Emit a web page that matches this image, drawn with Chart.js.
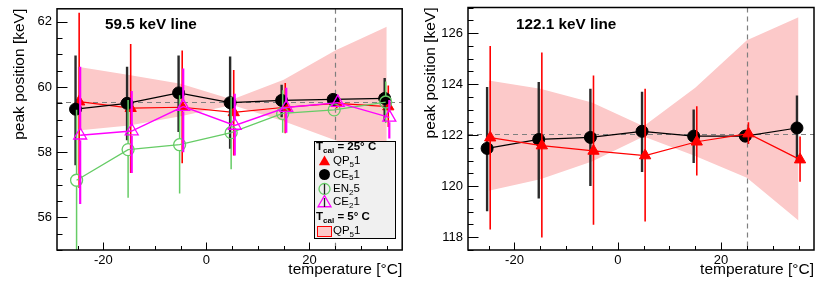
<!DOCTYPE html>
<html><head><meta charset="utf-8">
<script src="https://cdn.jsdelivr.net/npm/chart.js@4/dist/chart.umd.min.js"></script>
<style>
html,body{margin:0;padding:0;background:#fff;overflow:hidden}
#wrap{position:relative;width:822px;height:283px}
canvas{position:absolute;top:0}
</style></head><body>
<div id="wrap">
<canvas id="c1" width="411" height="283" style="left:0px"></canvas>
<canvas id="c2" width="411" height="283" style="left:411px"></canvas>
</div>
<script>
// ================= DATA =================
const xTickLabels = [-20, 0, 20];
const yTicks59 = [56, 58, 60, 62];
const yTicks122 = [118, 120, 122, 124, 126];
const bandTemps = [-25, -15, -5, 5, 15, 25, 35];
const calTemp = 25;

// ---- 59.5 keV line ----
const ref59 = 59.55;
const l59_QP5_x  = [-24.7, -14.7, -4.7, 5.3, 15.3, 25.3, 35.3];
const l59_QP5    = [59.55, 59.35, 59.38, 59.22, 59.38, 59.50, 59.40];
const l59_QP5_hi = [62.28, 61.32, 61.12, 60.52, 60.12, 59.65, 60.05];
const l59_QP5_lo = [56.90, 57.36, 57.66, 57.90, 58.58, 59.35, 58.77];

const l59_CE5_x  = [-25.4, -15.4, -5.4, 4.6, 14.6, 24.6, 34.6];
const l59_CE5    = [59.32, 59.50, 59.82, 59.52, 59.59, 59.62, 59.65];
const l59_CE5_hi = [60.97, 60.62, 60.97, 60.94, 60.07, 59.75, 60.28];
const l59_CE5_lo = [57.60, 58.37, 58.62, 58.11, 59.07, 59.50, 58.95];

const l59_EN2_x  = [-25.2, -15.2, -5.2, 4.8, 14.8, 24.8, 34.8];
const l59_EN2    = [57.14, 58.08, 58.23, 58.60, 59.19, 59.30, 59.54];
const l59_EN2_hi = [59.30, 59.60, 59.75, 59.70, 59.90, 59.45, 60.17];
const l59_EN2_lo = [54.50, 56.60, 56.73, 57.48, 58.60, 59.15, 58.90];

const l59_CE2_x  = [-24.5, -14.5, -4.5, 5.5, 15.5, 25.5, 35.5];
const l59_CE2    = [58.52, 58.65, 59.40, 58.82, 59.37, 59.52, 59.07];
const l59_CE2_hi = [60.62, 59.88, 60.57, 59.79, 59.98, 59.65, 59.60];
const l59_CE2_lo = [56.41, 57.36, 58.00, 57.90, 58.60, 59.40, 58.42];

const l59_band_hi = [60.62, 60.37, 60.10, 59.62, 60.22, 61.12, 61.85];
const l59_band_lo = [58.67, 58.82, 59.10, 59.45, 58.95, 58.37, 57.92];

// ---- 122.1 keV line ----
const ref122 = 122.05;
const l122_CE5_x  = [-25.3, -15.3, -5.3, 4.7, 14.7, 24.7, 34.7];
const l122_CE5    = [121.48, 121.83, 121.91, 122.15, 121.96, 121.96, 122.28];
const l122_CE5_hi = [123.89, 124.08, 123.82, 123.70, 123.00, 122.20, 123.55];
const l122_CE5_lo = [119.02, 119.52, 120.01, 120.56, 120.91, 121.75, 120.95];

const l122_QP5_x  = [-24.7, -14.7, -4.7, 5.3, 15.3, 25.3, 35.3];
const l122_QP5    = [121.90, 121.59, 121.38, 121.20, 121.74, 122.06, 121.04];
const l122_QP5_hi = [125.49, 125.24, 124.34, 123.82, 123.13, 122.50, 121.95];
const l122_QP5_lo = [118.30, 117.99, 118.49, 118.62, 120.42, 121.65, 120.17];

const l122_band_hi = [124.14, 123.82, 123.28, 122.35, 123.86, 125.72, 126.62];
const l122_band_lo = [119.82, 120.27, 120.97, 121.95, 121.18, 120.33, 118.66];

const legendHead25 = ['T', 'cal', ' = 25° C'];
const legendHead5  = ['T', 'cal', ' = 5° C'];
const legendEntries = [['QP', '5', '1'], ['CE', '5', '1'], ['EN', '2', '5'], ['CE', '2', '1']];

// ================= STYLE / HELPERS =================
const FONT = "'Liberation Sans', Arial, Helvetica, sans-serif";
const RED = '#ff0000', BLACK = '#000000', GREEN = '#66cc66', MAGENTA = '#ff00ff';
const BAND = 'rgb(252,201,201)';

const pts = (xs, ys) => xs.map((v, i) => ({x: v, y: ys[i]}));

function series(xs, ys, hi, lo, color, style, radius, filled, lw, errColor, errWidth, gap) {
  return {
    data: pts(xs, ys), showLine: true, borderColor: color, borderWidth: lw,
    pointStyle: style, pointRadius: radius, pointBorderColor: color, pointBorderWidth: filled ? 1 : 1.3,
    pointBackgroundColor: filled ? color : 'rgba(0,0,0,0)', fill: false,
    errHi: hi, errLo: lo, errColor: errColor, errWidth: errWidth, errGap: gap
  };
}
function band(xs, hi, lo) {
  return [
    {data: pts(xs, hi), showLine: true, borderWidth: 0, borderColor: 'rgba(0,0,0,0)', pointRadius: 0, fill: false, order: 100},
    {data: pts(xs, lo), showLine: true, borderWidth: 0, borderColor: 'rgba(0,0,0,0)', pointRadius: 0, fill: '-1', backgroundColor: BAND, order: 100}
  ];
}

function drawTri(ctx, x, y, r) {
  ctx.beginPath();
  for (let k = 0; k < 3; k++) {
    const a = -Math.PI / 2 + k * 2 * Math.PI / 3;
    const px = x + Math.cos(a) * r, py = y + Math.sin(a) * r;
    k ? ctx.lineTo(px, py) : ctx.moveTo(px, py);
  }
  ctx.closePath();
}

function richText(ctx, x, y, parts, bold, size) {
  let cx = x;
  parts.forEach((t, i) => {
    const sub = (i === 1);
    ctx.font = (bold ? 'bold ' : '') + (sub ? size * 0.7 : size) + 'px ' + FONT;
    ctx.fillText(t, cx, y + (sub ? size * 0.32 : 0));
    cx += ctx.measureText(t).width;
  });
}

function drawLegend(ctx) {
  const L = 314.5, T = 141.5, R = 395.5, B = 238.5;
  ctx.save();
  ctx.fillStyle = '#f0f0f0'; ctx.fillRect(L, T, R - L, B - T);
  ctx.strokeStyle = '#000'; ctx.lineWidth = 1; ctx.strokeRect(L, T, R - L, B - T);
  ctx.fillStyle = '#000'; ctx.textBaseline = 'middle'; ctx.textAlign = 'left';
  const sz = 11.5, mx = 324.5, tx = 333;
  richText(ctx, 316, 147, legendHead25, true, sz);
  const rows = [161, 174.5, 189, 202];
  rows.forEach((ry, i) => richText(ctx, tx, ry, legendEntries[i], false, sz));
  richText(ctx, 316, 217, legendHead5, true, sz);
  richText(ctx, tx, 231, legendEntries[0], false, sz);
  // markers
  ctx.fillStyle = RED; drawTri(ctx, mx, rows[0] + 1, 6.5); ctx.fill();
  ctx.fillStyle = BLACK; ctx.beginPath(); ctx.arc(mx, rows[1], 5.5, 0, 2 * Math.PI); ctx.fill();
  ctx.strokeStyle = GREEN; ctx.lineWidth = 1.3; ctx.beginPath(); ctx.arc(mx, rows[2], 5.5, 0, 2 * Math.PI); ctx.stroke();
  ctx.strokeStyle = '#222'; ctx.lineWidth = 1.3; ctx.beginPath(); ctx.moveTo(mx, rows[2] - 5); ctx.lineTo(mx, rows[2] + 5); ctx.stroke();
  ctx.strokeStyle = MAGENTA; ctx.lineWidth = 1.3; drawTri(ctx, mx, rows[3] + 1, 7.5); ctx.stroke();
  ctx.strokeStyle = '#222'; ctx.beginPath(); ctx.moveTo(mx, rows[3] - 4); ctx.lineTo(mx, rows[3] + 5); ctx.stroke();
  ctx.fillStyle = BAND; ctx.fillRect(317.5, 226.5, 14, 10);
  ctx.strokeStyle = RED; ctx.lineWidth = 1; ctx.strokeRect(317.5, 226.5, 14, 10);
  ctx.restore();
}

const rootPlugin = {
  id: 'rootStyle',
  beforeDatasetsDraw(chart, args, o) {
    const {ctx, chartArea: a, scales: {x, y}} = chart;
    ctx.save();
    ctx.beginPath(); ctx.rect(a.left, a.top, a.right - a.left, a.bottom - a.top); ctx.clip();
    ctx.strokeStyle = '#7f7f7f'; ctx.lineWidth = 1.2; ctx.setLineDash([5, 4]);
    ctx.beginPath();
    const yy = Math.round(y.getPixelForValue(o.refY)) + 0.5;
    ctx.moveTo(a.left, yy); ctx.lineTo(a.right, yy);
    const xx = Math.round(x.getPixelForValue(o.refX)) + 0.5;
    ctx.moveTo(xx, a.top); ctx.lineTo(xx, a.bottom);
    ctx.stroke();
    ctx.restore();
  },
  beforeDatasetDraw(chart, args) {
    const ds = chart.data.datasets[args.index];
    if (!ds.errHi) return;
    const {ctx, chartArea: a, scales: {x, y}} = chart;
    ctx.save();
    ctx.beginPath(); ctx.rect(a.left, a.top, a.right - a.left, a.bottom - a.top); ctx.clip();
    ctx.strokeStyle = ds.errColor; ctx.lineWidth = ds.errWidth;
    ctx.beginPath();
    const g = ds.errGap || 0;
    ds.data.forEach((p, i) => {
      const px = x.getPixelForValue(p.x), pc = y.getPixelForValue(p.y);
      const ph = y.getPixelForValue(ds.errHi[i]), pl = y.getPixelForValue(ds.errLo[i]);
      if (ph < pc - g) { ctx.moveTo(px, ph); ctx.lineTo(px, pc - g); }
      if (pl > pc + g) { ctx.moveTo(px, pc + g); ctx.lineTo(px, pl); }
    });
    ctx.stroke();
    ctx.restore();
  },
  afterDraw(chart, args, o) {
    const {ctx, chartArea: a, scales: {x, y}} = chart;
    ctx.save();
    ctx.strokeStyle = '#000'; ctx.lineWidth = 1;
    ctx.beginPath();
    for (let k = Math.ceil(y.min / o.yMinor); k * o.yMinor <= y.max + 1e-9; k++) {
      const v = k * o.yMinor;
      const major = Math.abs(v / o.yMajor - Math.round(v / o.yMajor)) < 1e-6;
      const py = Math.round(y.getPixelForValue(v)) + 0.5;
      ctx.moveTo(a.left, py); ctx.lineTo(a.left + (major ? 10.5 : 5.5), py);
    }
    for (let k = Math.ceil(x.min / o.xMinor); k * o.xMinor <= x.max + 1e-9; k++) {
      const v = k * o.xMinor;
      const major = Math.abs(v / o.xMajor - Math.round(v / o.xMajor)) < 1e-6;
      const px = Math.round(x.getPixelForValue(v)) + 0.5;
      ctx.moveTo(px, a.bottom); ctx.lineTo(px, a.bottom - (major ? 7.5 : 4));
    }
    ctx.stroke();
    ctx.lineWidth = 1.5;
    ctx.strokeRect(a.left, a.top, a.right - a.left, a.bottom - a.top);
    ctx.fillStyle = '#000'; ctx.textBaseline = 'middle'; ctx.textAlign = 'left';
    ctx.font = 'bold 15.3px ' + FONT;
    ctx.fillText(o.title, 105, 25);
    if (o.legend) drawLegend(ctx);
    ctx.restore();
  }
};

function makeChart(id, datasets, yMin, yMax, yTickVals, refY, title, legend, yTitlePad) {
  return new Chart(document.getElementById(id), {
    type: 'scatter',
    data: {datasets: datasets},
    plugins: [rootPlugin],
    options: {
      responsive: false, animation: false, devicePixelRatio: 1,
      layout: {padding: {top: 4, right: 8, left: 0, bottom: 0}},
      plugins: {
        legend: {display: false}, tooltip: {enabled: false},
        filler: {drawTime: 'beforeDatasetsDraw'},
        rootStyle: {refX: calTemp, refY: refY, title: title, legend: legend,
                    yMinor: 0.5, yMajor: 2, xMinor: 5, xMajor: 20}
      },
      scales: {
        x: {
          type: 'linear', min: -29, max: 38,
          grid: {display: false, drawTicks: false}, border: {display: false},
          afterBuildTicks: s => { s.ticks = xTickLabels.map(v => ({value: v})); },
          afterFit: s => { s.height = 33; s.paddingLeft = 0; s.paddingRight = 0; },
          ticks: {font: {family: FONT, size: 13}, color: '#000', padding: 3, maxRotation: 0, autoSkip: false},
          title: {display: true, text: 'temperature [°C]', align: 'end', color: '#000',
                  font: {family: FONT, size: 15.5}, padding: {top: 0, bottom: 4}}
        },
        y: {
          type: 'linear', min: yMin, max: yMax,
          grid: {display: false, drawTicks: false}, border: {display: false},
          afterBuildTicks: s => { s.ticks = yTickVals.map(v => ({value: v})); },
          afterFit: s => { s.width = 57; s.paddingTop = 0; s.paddingBottom = 0; },
          ticks: {font: {family: FONT, size: 13}, color: '#000', padding: 5, autoSkip: false},
          title: {display: true, text: 'peak position [keV]', align: 'end', color: '#000',
                  font: {family: FONT, size: 15.5}, padding: {top: yTitlePad, bottom: 0}}
        }
      }
    }
  });
}

// ---- left panel ----
makeChart('c1', [
  ...band(bandTemps, l59_band_hi, l59_band_lo),
  series(l59_QP5_x, l59_QP5, l59_QP5_hi, l59_QP5_lo, RED, 'triangle', 6.5, true, 1.2, RED, 1.6, 0),
  series(l59_CE5_x, l59_CE5, l59_CE5_hi, l59_CE5_lo, BLACK, 'circle', 6, true, 1.2, '#2a2a2a', 2.4, 0),
  series(l59_EN2_x, l59_EN2, l59_EN2_hi, l59_EN2_lo, GREEN, 'circle', 6, false, 1.3, GREEN, 1.5, 6),
  series(l59_CE2_x, l59_CE2, l59_CE2_hi, l59_CE2_lo, MAGENTA, 'triangle', 7.5, false, 1.4, MAGENTA, 2.2, 5)
].map((d, i) => Object.assign({order: d.order !== undefined ? d.order : 10 - i}, d)),
  55, 62.4, yTicks59, ref59, '59.5 keV line', true, 10.5);

// ---- right panel ----
makeChart('c2', [
  ...band(bandTemps, l122_band_hi, l122_band_lo),
  series(l122_CE5_x, l122_CE5, l122_CE5_hi, l122_CE5_lo, BLACK, 'circle', 6, true, 1.2, '#2a2a2a', 2.4, 0),
  series(l122_QP5_x, l122_QP5, l122_QP5_hi, l122_QP5_lo, RED, 'triangle', 6.5, true, 1.2, RED, 1.6, 0)
].map((d, i) => Object.assign({order: d.order !== undefined ? d.order : 10 - i}, d)),
  117.5, 127, yTicks122, ref122, '122.1 keV line', false, 10.5);
</script>
</body></html>
